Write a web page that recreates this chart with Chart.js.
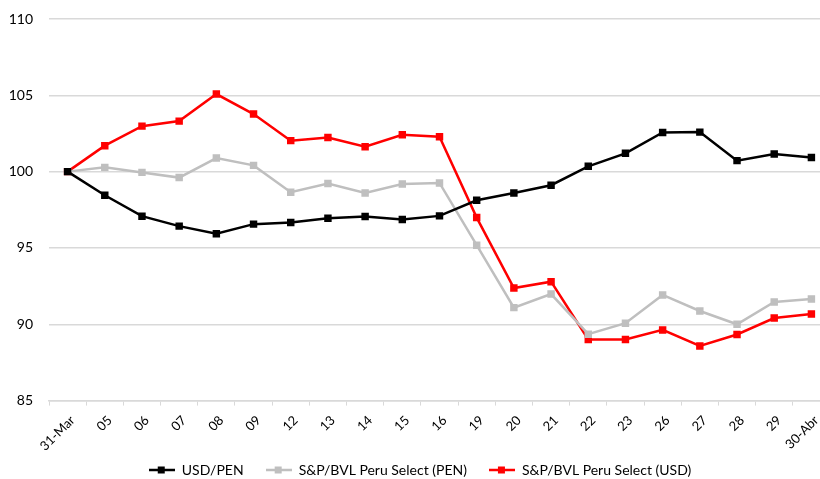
<!DOCTYPE html>
<html>
<head>
<meta charset="utf-8">
<script src="https://cdn.jsdelivr.net/npm/chart.js@4"></script>
<style>
  html, body { margin: 0; padding: 0; background: #fff; overflow: hidden; }
  #wrap { width: 840px; height: 479px; position: relative; }
</style>
</head>
<body>
<div id="wrap"><canvas id="chart"></canvas></div>
<script>
// Categories (trading days, Mar 31 - Apr 30)
const labels = ['31-Mar', '05', '06', '07', '08', '09', '12', '13', '14', '15', '16',
    '19', '20', '21', '22', '23', '26', '27', '28', '29', '30-Abr'];

// Index values (31-Mar = 100)
const usdPen = [100, 98.45, 97.08, 96.43, 95.93, 96.56, 96.67, 96.95, 97.06, 96.86, 97.10,
    98.12, 98.60, 99.11, 100.35, 101.20, 102.57, 102.59, 100.72, 101.16, 100.93];
const peruSelectPen = [100, 100.28, 99.95, 99.61, 100.89, 100.41, 98.65, 99.22, 98.60, 99.19, 99.26,
    95.18, 91.09, 91.98, 89.35, 90.07, 91.92, 90.87, 90.00, 91.46, 91.65];
const peruSelectUsd = [100, 101.70, 102.98, 103.31, 105.08, 103.77, 102.03, 102.24, 101.63, 102.42, 102.29,
    96.99, 92.37, 92.79, 89.00, 89.00, 89.63, 88.58, 89.33, 90.41, 90.67];

const yTicks = [85, 90, 95, 100, 105, 110];

// legend marker: short line with a square in the middle
function legendMarker(color) {
    const c = document.createElement('canvas');
    c.width = 26;
    c.height = 8;
    const ctx = c.getContext('2d');
    ctx.strokeStyle = color;
    ctx.lineWidth = 2.5;
    ctx.beginPath();
    ctx.moveTo(0, 4);
    ctx.lineTo(26, 4);
    ctx.stroke();
    ctx.fillStyle = color;
    ctx.fillRect(9, 0.5, 7, 7);
    return c;
}

function series(label, data, color) {
    return {
        label: label,
        data: data,
        borderColor: color,
        backgroundColor: color,
        borderWidth: 2.5,
        pointStyle: 'rect',
        pointRadius: 3.5,
        pointHoverRadius: 3.5,
        tension: 0,
        legendImg: legendMarker(color)
    };
}

const font = "Lato, 'Open Sans', sans-serif";

new Chart(document.getElementById('chart'), {
    type: 'line',
    data: {
        labels: labels,
        datasets: [
            series('USD/PEN', usdPen, '#000000'),
            series('S&P/BVL Peru Select (PEN)', peruSelectPen, '#bfbfbf'),
            series('S&P/BVL Peru Select (USD)', peruSelectUsd, '#ff0000')
        ]
    },
    options: {
        responsive: true,
        maintainAspectRatio: false,
        animation: false,
        layout: { padding: { left: 10, right: 10, top: 19, bottom: -8 } },
        plugins: {
            tooltip: { enabled: false },
            legend: {
                position: 'bottom',
                labels: {
                    font: { family: font, size: 14 },
                    color: '#000',
                    usePointStyle: true,
                    pointStyleWidth: 26,
                    boxHeight: 8,
                    padding: 22,
                    generateLabels: chart => chart.data.datasets.map((ds, i) => ({
                        text: ds.label,
                        pointStyle: ds.legendImg,
                        fillStyle: ds.borderColor,
                        strokeStyle: ds.borderColor,
                        lineWidth: 0,
                        hidden: false,
                        datasetIndex: i
                    }))
                }
            }
        },
        scales: {
            x: {
                offset: true,
                // let the first rotated label run off the left edge, like the original
                afterFit: scale => {
                    scale.paddingLeft = 0;
                    scale.paddingRight = 0;
                    scale.height -= 20;
                    // don't clip labels to the (shrunk) axis box
                    scale._computeLabelArea = () => undefined;
                },
                grid: {
                    drawOnChartArea: false,
                    drawTicks: true,
                    tickLength: 5,
                    color: '#d9d9d9',
                    offset: true
                },
                border: { color: '#d9d9d9', width: 1.5 },
                ticks: {
                    font: { family: font, size: 13 },
                    color: '#000',
                    minRotation: 45,
                    maxRotation: 45,
                    autoSkip: false,
                    padding: 7,
                    labelOffset: 5
                }
            },
            y: {
                min: 85,
                max: 110,
                afterBuildTicks: axis => { axis.ticks = yTicks.map(v => ({ value: v })); },
                afterFit: scale => {
                    scale.width = 39;
                    scale.paddingTop = 0;
                    scale.paddingBottom = 0;
                },
                grid: { color: '#d9d9d9', lineWidth: 1.5, drawTicks: false },
                border: { display: false },
                ticks: {
                    font: { family: font, size: 14 },
                    color: '#000',
                    padding: 16
                }
            }
        }
    }
});
</script>
</body>
</html>
